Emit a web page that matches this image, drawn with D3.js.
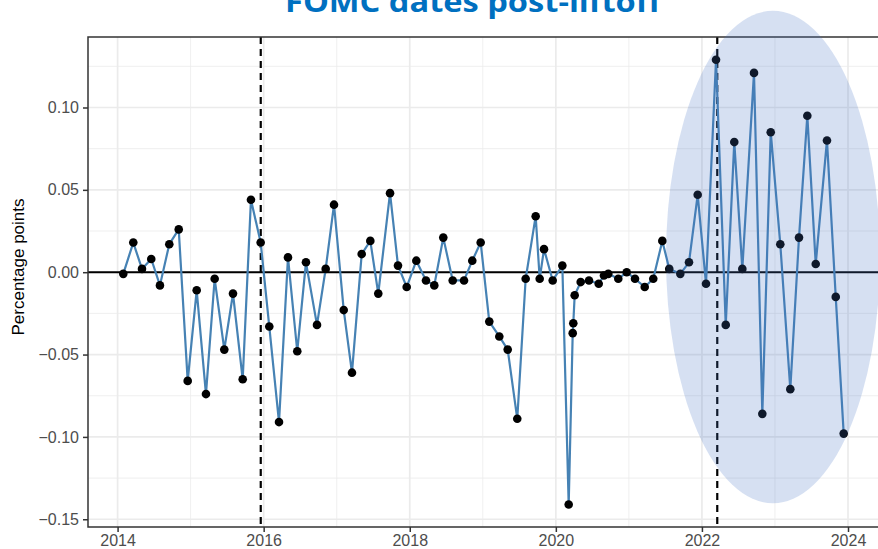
<!DOCTYPE html>
<html>
<head>
<meta charset="utf-8">
<script src="https://cdn.jsdelivr.net/npm/d3@7"></script>
<style>
	body { margin: 0; background: #fff; overflow: hidden; }
	svg { display: block; }
</style>
</head>
<body>
<div id="chart"></div>
<script>

// meeting dates as decimal years, surprise in percentage points
var meetingDates = [
	2014.078, 2014.215, 2014.334, 2014.461, 2014.580, 2014.708, 2014.837, 2014.960,
	2015.083, 2015.210, 2015.329, 2015.461, 2015.580, 2015.713, 2015.826, 2015.959,
	2016.077, 2016.210, 2016.333, 2016.460, 2016.579, 2016.730, 2016.849, 2016.963,
	2017.096, 2017.209, 2017.342, 2017.460, 2017.569, 2017.730, 2017.839, 2017.958,
	2018.090, 2018.222, 2018.336, 2018.459, 2018.588, 2018.743, 2018.856, 2018.971,
	2019.089, 2019.226, 2019.341, 2019.472, 2019.587, 2019.724, 2019.779, 2019.838, 2019.957,
	2020.089, 2020.176, 2020.231, 2020.239, 2020.258, 2020.340, 2020.454, 2020.587, 2020.659, 2020.718, 2020.855, 2020.970,
	2021.084, 2021.217, 2021.334, 2021.458, 2021.553, 2021.704, 2021.823, 2021.942,
	2022.056, 2022.193, 2022.326, 2022.443, 2022.553, 2022.713, 2022.827, 2022.942,
	2023.073, 2023.210, 2023.329, 2023.443, 2023.558, 2023.712, 2023.832, 2023.941
];

var surprises = [
	-0.001, 0.018, 0.002, 0.008, -0.008, 0.017, 0.026, -0.066,
	-0.011, -0.074, -0.004, -0.047, -0.013, -0.065, 0.044, 0.018,
	-0.033, -0.091, 0.009, -0.048, 0.006, -0.032, 0.002, 0.041,
	-0.023, -0.061, 0.011, 0.019, -0.013, 0.048, 0.004, -0.009,
	0.007, -0.005, -0.008, 0.021, -0.005, -0.005, 0.007, 0.018,
	-0.030, -0.039, -0.047, -0.089, -0.004, 0.034, -0.004, 0.014, -0.005,
	0.004, -0.141, -0.037, -0.031, -0.014, -0.006, -0.005, -0.007, -0.002, -0.001, -0.004, 0.000,
	-0.004, -0.009, -0.004, 0.019, 0.002, -0.001, 0.006, 0.047,
	-0.007, 0.129, -0.032, 0.079, 0.002, 0.121, -0.086, 0.085,
	0.017, -0.071, 0.021, 0.095, 0.005, 0.080, -0.015, -0.098
];

var yTicks = [0.10, 0.05, 0.00, -0.05, -0.10, -0.15];
var yMinor = [0.125, 0.075, 0.025, -0.025, -0.075, -0.125];
var xTicks = [2014, 2016, 2018, 2020, 2022, 2024];
var xMinor = [2015, 2017, 2019, 2021, 2023];

// liftoff dates (Dec 2015, Mar 2022)
var liftoffs = [2015.96, 2022.21];

// highlighted region, in data units
var highlight = { year: 2022.973, value: 0.0092, yearRadius: 1.465, valueRadius: 0.1495 };

var W = 878, H = 549;
var pLeft = 88, pRight = 880, pTop = 37, pBottom = 527;

var svg = d3.select('#chart').append('svg')
	.attr('width', W)
	.attr('height', H);

var x = d3.scaleLinear().domain([2013.595, 2024.438]).range([pLeft, pRight]);
var y = d3.scaleLinear().domain([-0.1547, 0.1428]).range([pBottom, pTop]);

var points = meetingDates.map(function(d, i) { return { date: d, val: surprises[i] }; });

// grid
var grid = svg.append('g');

grid.selectAll('.ymin').data(yMinor).enter().append('line')
	.attr('x1', pLeft).attr('x2', pRight)
	.attr('y1', function(d) { return y(d); }).attr('y2', function(d) { return y(d); })
	.style('stroke', '#EBEBEB').style('stroke-width', 0.8);

grid.selectAll('.xmin').data(xMinor).enter().append('line')
	.attr('y1', pTop).attr('y2', pBottom)
	.attr('x1', function(d) { return x(d); }).attr('x2', function(d) { return x(d); })
	.style('stroke', '#EBEBEB').style('stroke-width', 0.8);

grid.selectAll('.ymaj').data(yTicks).enter().append('line')
	.attr('x1', pLeft).attr('x2', pRight)
	.attr('y1', function(d) { return y(d); }).attr('y2', function(d) { return y(d); })
	.style('stroke', '#EBEBEB').style('stroke-width', 1.7);

grid.selectAll('.xmaj').data(xTicks).enter().append('line')
	.attr('y1', pTop).attr('y2', pBottom)
	.attr('x1', function(d) { return x(d); }).attr('x2', function(d) { return x(d); })
	.style('stroke', '#EBEBEB').style('stroke-width', 1.7);

// zero line
svg.append('line')
	.attr('x1', pLeft).attr('x2', pRight)
	.attr('y1', y(0)).attr('y2', y(0))
	.style('stroke', '#000').style('stroke-width', 2);

// liftoff markers
svg.selectAll('.liftoff').data(liftoffs).enter().append('line')
	.attr('x1', function(d) { return x(d); }).attr('x2', function(d) { return x(d); })
	.attr('y1', pTop).attr('y2', pBottom)
	.style('stroke', '#000').style('stroke-width', 2.2)
	.style('stroke-dasharray', '7,5');

// series
var line = d3.line()
	.x(function(d) { return x(d.date); })
	.y(function(d) { return y(d.val); });

svg.append('path')
	.datum(points)
	.attr('d', line)
	.style('fill', 'none')
	.style('stroke', '#4682B4')
	.style('stroke-width', 2.2)
	.style('stroke-linejoin', 'round');

svg.selectAll('.pt').data(points).enter().append('circle')
	.attr('cx', function(d) { return x(d.date); })
	.attr('cy', function(d) { return y(d.val); })
	.attr('r', 4.3)
	.style('fill', '#000');

// panel border
svg.append('path')
	.attr('d', 'M' + pRight + ',' + pTop + 'H' + pLeft + 'V' + pBottom + 'H' + pRight)
	.style('fill', 'none')
	.style('stroke', '#333')
	.style('stroke-width', 1.5);

// axes
var yAxis = d3.axisLeft(y)
	.tickValues(yTicks)
	.tickSize(5)
	.tickPadding(4)
	.tickFormat(function(d) { return d3.format('.2f')(d).replace('-', '\u2212'); });

var xAxis = d3.axisBottom(x)
	.tickValues(xTicks)
	.tickSize(5)
	.tickPadding(3)
	.tickFormat(d3.format('d'));

var gy = svg.append('g').attr('transform', 'translate(' + pLeft + ',0)').call(yAxis);
var gx = svg.append('g').attr('transform', 'translate(0,' + pBottom + ')').call(xAxis);

[gy, gx].forEach(function(g) {
	g.select('.domain').remove();
	g.selectAll('.tick line').style('stroke', '#333').style('stroke-width', 1.5);
	g.selectAll('.tick text')
		.style('font-family', 'Liberation Sans, Arial, sans-serif')
		.style('font-size', '16px')
		.style('fill', '#4D4D4D');
});

// highlight ellipse over the recent period
svg.append('ellipse')
	.attr('cx', x(highlight.year))
	.attr('cy', y(highlight.value))
	.attr('rx', x(highlight.year + highlight.yearRadius) - x(highlight.year))
	.attr('ry', y(highlight.value - highlight.valueRadius) - y(highlight.value))
	.style('fill', '#4472C4')
	.style('fill-opacity', 0.22);

// y label
svg.append('text')
	.attr('transform', 'translate(24,267) rotate(-90)')
	.attr('text-anchor', 'middle')
	.style('font-family', 'Liberation Sans, Arial, sans-serif')
	.style('font-size', '17px')
	.style('fill', '#000')
	.text('Percentage points');

// title, clipped at the top edge
svg.append('text')
	.attr('x', 285)
	.attr('y', 12)
	.attr('textLength', 376)
	.attr('lengthAdjust', 'spacingAndGlyphs')
	.style('font-family', 'Open Sans, sans-serif')
	.style('font-weight', 'bold')
	.style('font-size', '28px')
	.style('fill', '#0070C0')
	.text('FOMC dates post-liftoff');

</script>
</body>
</html>
